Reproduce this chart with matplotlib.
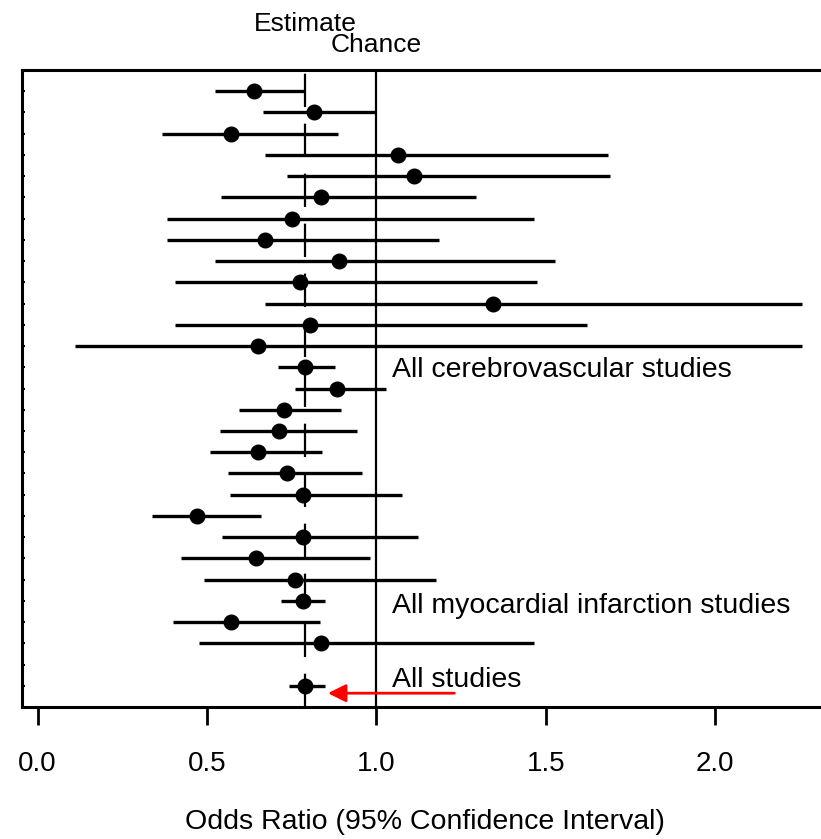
import numpy as np
import matplotlib
matplotlib.use("Agg")
import matplotlib.pyplot as plt

# odds ratios with 95% CI, one entry per study row (top to bottom)
estimate = [0.64, 0.815, 0.57, 1.065, 1.11, 0.835, 0.75, 0.67, 0.89, 0.775,
            1.345, 0.805, 0.65, 0.79, 0.883, 0.727, 0.712, 0.649, 0.736, 0.783,
            0.471, 0.783, 0.643, 0.759, 0.783, 0.572, 0.837, 0.79]
lower = [0.523, 0.665, 0.367, 0.672, 0.736, 0.540, 0.382, 0.382, 0.523, 0.405,
         0.672, 0.405, 0.110, 0.709, 0.759, 0.593, 0.537, 0.508, 0.562, 0.569,
         0.336, 0.545, 0.422, 0.491, 0.719, 0.398, 0.476, 0.742]
upper = [0.786, 0.996, 0.886, 1.685, 1.690, 1.294, 1.464, 1.184, 1.528, 1.474,
         2.255, 1.621, 2.255, 0.879, 1.027, 0.894, 0.942, 0.839, 0.957, 1.075,
         0.660, 1.122, 0.980, 1.176, 0.847, 0.832, 1.466, 0.847]

summary_rows = [13, 24, 27]
summary_labels = ["All cerebrovascular studies",
                  "All myocardial infarction studies",
                  "All studies"]
label_shift = [0.15, 0.25, -0.25]

pooled = 0.79
chance = 1.0
xticks = [0.0, 0.5, 1.0, 1.5, 2.0]

FONT = ["Liberation Sans Narrow", "Liberation Sans", "DejaVu Sans"]
plt.rcParams["font.family"] = FONT

# rows 1..27, then a blank row, then the overall estimate
ypos = np.arange(1, len(estimate) + 1, dtype=float)
ypos[-1] += 1

fig = plt.figure(figsize=(8.21, 8.39), dpi=100)
ax = fig.add_axes([22 / 821, 132 / 839, 805 / 821, 637 / 839])

ax.axvline(chance, color="black", lw=1.6, zorder=1)
ax.axvline(pooled, color="black", lw=1.6, dashes=(15, 7.5), dash_capstyle="butt", zorder=1)

ax.hlines(ypos, lower, upper, color="black", lw=2.4, zorder=2)
ax.plot(estimate, ypos, "o", color="black", ms=10.5, zorder=3)

for r, lab, dy in zip(summary_rows, summary_labels, label_shift):
    ax.text(1.045, ypos[r] + dy, lab, fontsize=20.5, va="center", ha="left")

ax.annotate("", xy=(0.857, ypos[-1] + 0.35), xytext=(1.23, ypos[-1] + 0.35),
            arrowprops=dict(arrowstyle="-|>,head_length=0.4,head_width=0.2",
                            color="red", lw=2, mutation_scale=27,
                            shrinkA=0, shrinkB=0))

tr = ax.get_xaxis_transform()
ax.text(pooled, 1.0612, "Estimate", transform=tr, ha="center", va="baseline", fontsize=19)
ax.text(chance, 1.0283, "Chance", transform=tr, ha="center", va="baseline", fontsize=19)

ax.set_xlim(-0.0463, 2.33)
ax.set_ylim(len(estimate) + 2, 0)
ax.set_xticks(xticks)
ax.set_xticklabels([f"{t:.1f}" for t in xticks])
ax.set_yticks(np.arange(1, len(estimate) + 2))
ax.set_yticklabels([])
ax.tick_params(axis="x", length=13, width=2, pad=19, labelsize=20)
ax.tick_params(axis="y", length=2, width=1.5, direction="in")
ax.set_xlabel("Odds Ratio (95% Confidence Interval)", fontsize=20.5, labelpad=23)

for s in ax.spines.values():
    s.set_linewidth(2.2)

plt.savefig("out.png", dpi=100)
